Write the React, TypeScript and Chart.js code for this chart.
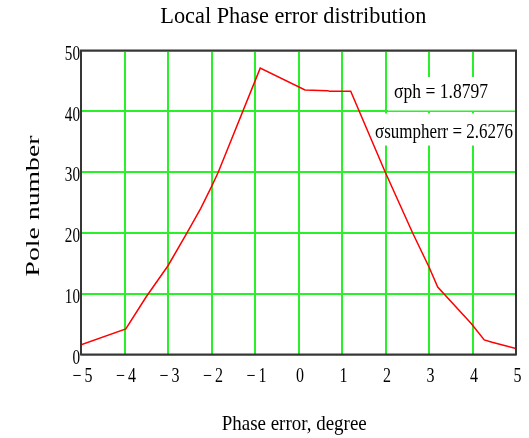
import React, { useEffect, useRef } from "react";
import { Chart, registerables } from "chart.js";

Chart.register(...registerables);

// Distribution curve: phase error (degree) vs. number of poles
const phaseError = [-5.0, -3.97, -3.5, -3.0, -2.58, -2.25, -2.0, -1.85, -0.88, 0.15, 0.67, 0.71, 1.2, 2.0, 2.63, 3.0, 3.2, 3.97, 4.27, 4.45, 5.0];
const poleCount = [1.6, 4.2, 9.5, 14.6, 19.8, 24.0, 27.6, 29.9, 47.1, 43.5, 43.4, 43.3, 43.3, 29.9, 19.9, 14.4, 11.1, 5.1, 2.4, 2.0, 1.0];

const xTicks = [-5, -4, -3, -2, -1, 0, 1, 2, 3, 4, 5];
const yTicks = [0, 10, 20, 30, 40, 50];

const chartTitle = "Local Phase error distribution";
const xTitle = "Phase error, degree";
const yTitle = "Pole number";
const statLabels = ["\u03c3ph = 1.8797", "\u03c3sumpherr = 2.6276"];

const SERIF = '"Liberation Serif", "Times New Roman", serif';
const GRID = "#2af02a";
const FRAME = "#363636";

const fmtTick = (v: number) => (v < 0 ? "\u2212\u2009" + Math.abs(v) : String(v));

// Draws text squeezed horizontally (sx / sy) or fitted to a target width
function drawText(
  ctx: CanvasRenderingContext2D,
  text: string,
  x: number,
  y: number,
  size: number,
  align: CanvasTextAlign,
  opts: { sx?: number; sy?: number; width?: number; rotate?: number } = {}
) {
  ctx.save();
  ctx.font = `${size}px ${SERIF}`;
  ctx.fillStyle = "#000";
  ctx.textAlign = align;
  ctx.textBaseline = "alphabetic";
  ctx.translate(x, y);
  if (opts.rotate) ctx.rotate(opts.rotate);
  let sx = opts.sx ?? 1;
  if (opts.width) sx = opts.width / ctx.measureText(text).width;
  ctx.scale(sx, opts.sy ?? 1);
  ctx.fillText(text, 0, 0);
  ctx.restore();
}

const decorPlugin = {
  id: "decor",
  beforeDatasetsDraw(chart: any) {
    const ctx: CanvasRenderingContext2D = chart.ctx;
    ctx.save();
    ctx.fillStyle = "#fff";
    ctx.fillRect(388, 77, 128, 33.5);
    ctx.fillRect(371, 113.5, 145, 32);
    ctx.restore();
  },
  afterDraw(chart: any) {
    const ctx: CanvasRenderingContext2D = chart.ctx;
    const { left, top, right, bottom } = chart.chartArea;
    const xs = chart.scales.x;
    const ys = chart.scales.y;

    ctx.save();
    ctx.strokeStyle = FRAME;
    ctx.lineWidth = 2;
    ctx.strokeRect(left, top, right - left, bottom - top);
    ctx.restore();

    xTicks.forEach((v) => {
      drawText(ctx, fmtTick(v), xs.getPixelForValue(v) + 1.5, 381.5, 20, "center", { sx: 0.8 });
    });
    yTicks.forEach((v) => {
      drawText(ctx, fmtTick(v), left - 1, ys.getPixelForValue(v) + 9.3, 20, "right", { sx: 0.76 });
    });

    drawText(ctx, chartTitle, 293.3, 22.7, 23, "center", { width: 266 });
    drawText(ctx, xTitle, 294.2, 430, 22, "center", { width: 145 });
    drawText(ctx, yTitle, 39, 206, 26, "center", { width: 141, sy: 0.7, rotate: -Math.PI / 2 });

    drawText(ctx, statLabels[0], 394, 98.3, 20, "left", { width: 94 });
    drawText(ctx, statLabels[1], 375, 137.5, 20, "left", { width: 138 });
  },
};

export default function App() {
  const ref = useRef<HTMLCanvasElement>(null);

  useEffect(() => {
    const canvas = ref.current;
    if (!canvas) return;
    const gridOpts = { color: GRID, lineWidth: 2, drawTicks: false };
    const chart = new Chart(canvas, {
      type: "scatter",
      data: {
        datasets: [
          {
            data: phaseError.map((x, i) => ({ x, y: poleCount[i] })),
            showLine: true,
            borderColor: "#ff0000",
            borderWidth: 1.5,
            pointRadius: 0,
            fill: false,
            tension: 0,
          },
        ],
      },
      options: {
        animation: false,
        responsive: false,
        devicePixelRatio: 1,
        layout: { padding: { top: 50.5, right: 13, left: 0, bottom: 0 } },
        plugins: {
          legend: { display: false },
          tooltip: { enabled: false },
          title: { display: false },
        },
        scales: {
          x: {
            type: "linear",
            min: -5,
            max: 5,
            ticks: { display: false, stepSize: 1 },
            grid: gridOpts,
            border: { display: false },
            afterBuildTicks: (s: any) => {
              s.ticks = xTicks.map((value) => ({ value }));
            },
            afterFit: (s: any) => {
              s.height = 83.5;
            },
          },
          y: {
            type: "linear",
            min: 0,
            max: 50,
            ticks: { display: false, stepSize: 10 },
            grid: gridOpts,
            border: { display: false },
            afterBuildTicks: (s: any) => {
              s.ticks = yTicks.map((value) => ({ value }));
            },
            afterFit: (s: any) => {
              s.width = 81;
            },
          },
        },
      },
      plugins: [decorPlugin],
    });
    return () => chart.destroy();
  }, []);

  return (
    <div style={{ position: "absolute", left: 0, top: 0, width: 529, height: 438, background: "#fff" }}>
      <canvas ref={ref} width={529} height={438} style={{ display: "block" }} />
    </div>
  );
}
